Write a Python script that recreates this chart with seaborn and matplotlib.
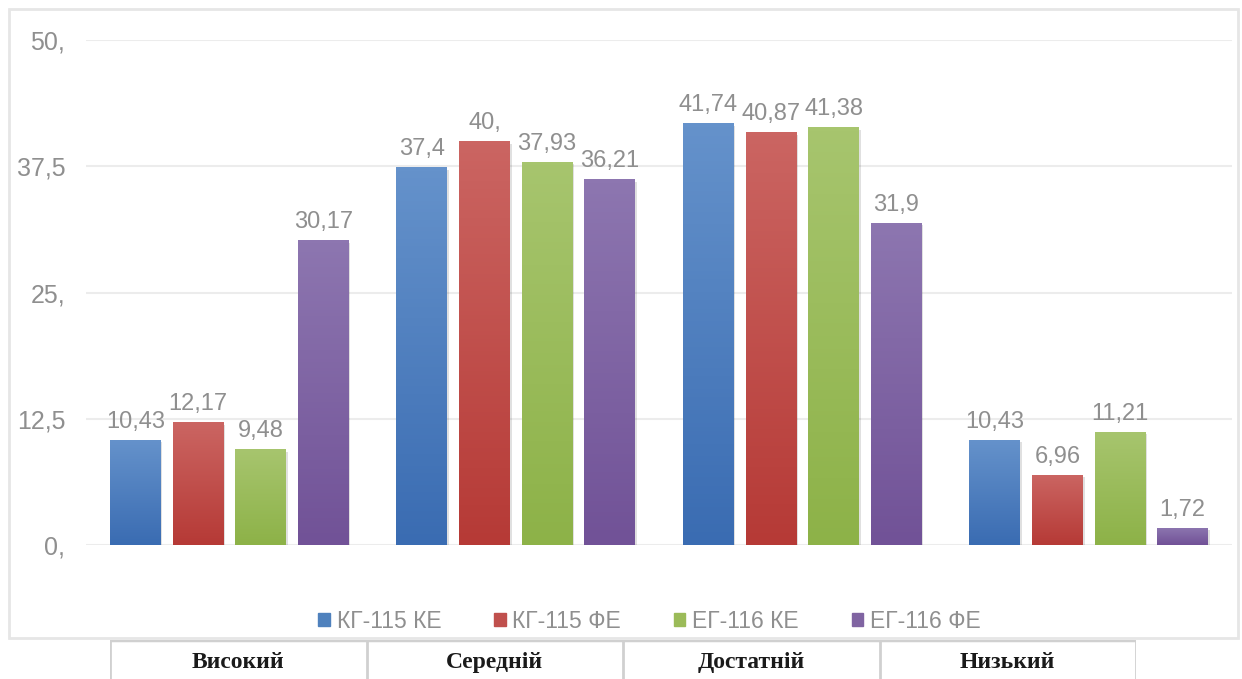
import numpy as np
import pandas as pd
import seaborn as sns
import matplotlib.pyplot as plt
from matplotlib.colors import LinearSegmentedColormap
from matplotlib.patches import Rectangle

# дані з діаграми
levels = ['Високий', 'Середній', 'Достатній', 'Низький']
groups = ['КГ-115 КЕ', 'КГ-115 ФЕ', 'ЕГ-116 КЕ', 'ЕГ-116 ФЕ']
kg_ke = [10.43, 37.4, 41.74, 10.43]
kg_fe = [12.17, 40.0, 40.87, 6.96]
eg_ke = [9.48, 37.93, 41.38, 11.21]
eg_fe = [30.17, 36.21, 31.9, 1.72]
y_ticks = [0, 12.5, 25, 37.5, 50]

colors = ['#4f81bd', '#c0504d', '#9bbb59', '#8064a2']
tops = ['#6592cb', '#cb6562', '#a7c56e', '#8d76b0']
bottoms = ['#3a6cb2', '#b63a36', '#8db248', '#715297']

df = pd.DataFrame({'Рівень': levels * 4,
                   'Група': np.repeat(groups, 4),
                   'Значення': kg_ke + kg_fe + eg_ke + eg_fe})

def fmt(v):
    s = f'{v:g}'.replace('.', ',')
    return s if ',' in s else s + ','

sns.set_theme(style='white')
plt.rcParams['font.family'] = ['Liberation Sans', 'DejaVu Sans']
gray = '#8f8f8f'

fig = plt.figure(figsize=(12.42, 6.79), dpi=100)
# рамка діаграми
fig.patches.append(Rectangle((9 / 1242, 1 - 638 / 679), 1229 / 1242, 629 / 679,
                             transform=fig.transFigure, fill=False,
                             edgecolor='#e6e6e6', lw=2, zorder=0))

ax = fig.add_axes([86 / 1242, 1 - 545 / 679, 1146 / 1242, 505 / 679])
sns.barplot(data=df, x='Рівень', y='Значення', hue='Група', palette=colors,
            width=0.874, gap=0.19, ax=ax, legend=False, saturation=1)

for i, cont in enumerate(ax.containers):
    cmap = LinearSegmentedColormap.from_list('g', [bottoms[i], tops[i]])
    for bar in cont:
        x, w, h = bar.get_x(), bar.get_width(), bar.get_height()
        shadow = Rectangle((x + 0.006, -0.25), w, h, color='#000000', alpha=0.12,
                           lw=0, zorder=1.5)
        ax.add_patch(shadow)
        bar.set_facecolor('none')
        bar.set_edgecolor('none')
        bar.set_zorder(3)
        grad = np.linspace(0, 1, 100).reshape(-1, 1)
        im = ax.imshow(grad, extent=[x, x + w, 0, h], origin='lower', cmap=cmap,
                       aspect='auto', zorder=2)
        im.set_clip_path(bar)
    ax.bar_label(cont, labels=[fmt(v) for v in cont.datavalues], padding=5,
                 color=gray, fontsize=17)

ax.set_xlim(-0.5, 3.5)
ax.set_ylim(0, 50)
ax.set_yticks(y_ticks)
ax.set_yticklabels([fmt(t) for t in y_ticks], color=gray, fontsize=18)
ax.tick_params(axis='y', length=0, pad=15)
ax.set_xticks([])
ax.set_xlabel('')
ax.set_ylabel('')
ax.grid(axis='y', color='#ececec', lw=1.5, zorder=0)
ax.set_axisbelow(True)
sns.despine(ax=ax, left=True, bottom=True)

# легенда
handles = [Rectangle((0, 0), 1, 1, color=c) for c in colors]
fig.legend(handles, groups, loc='center', bbox_to_anchor=(0.523, 0.085), ncol=4,
           frameon=False, fontsize=16.5, labelcolor=gray, handlelength=0.5,
           handleheight=0.5, handletextpad=0.3, columnspacing=2.3)

# таблиця категорій
tab = fig.add_axes([110 / 1242, 0, 1026 / 1242, 39 / 679])
tab.set_xlim(0, 4)
tab.set_ylim(0, 1)
tab.axis('off')
tab.axhline(1, color='#d0d0d0', lw=2.5)
for k in range(5):
    tab.axvline(k, color='#d0d0d0', lw=2)
for k, name in enumerate(levels):
    tab.text(k + 0.5, 0.42, name, ha='center', va='center', fontsize=17,
             family='Liberation Serif', weight='bold', color='#1a1a1a')

fig.savefig('out.png', dpi=100, facecolor='white')
